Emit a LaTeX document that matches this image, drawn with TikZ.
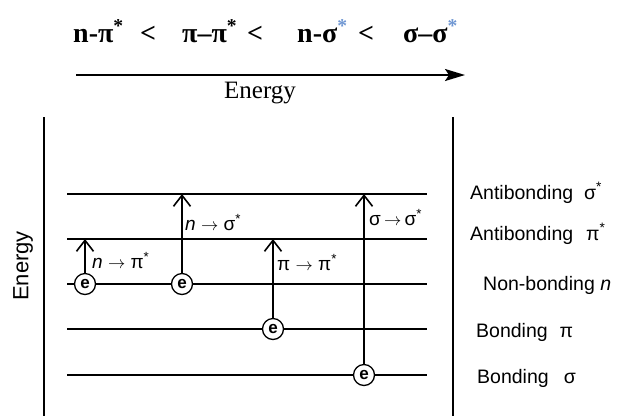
\documentclass[tikz,border=0pt]{standalone}
\usepackage{fontspec}
\setmainfont{Liberation Serif}
\setsansfont{Liberation Sans}
\usepackage{xcolor}
\usetikzlibrary{arrows.meta}
\definecolor{starBlue}{RGB}{110,150,210}
\tikzset{
  ordertext/.style={anchor=base west, inner sep=0pt, font=\bfseries\fontsize{28}{28}\selectfont},
  level/.style={line width=1.3pt},
  frameline/.style={line width=2pt},
  electron/.style={circle, draw, line width=1.3pt, fill=white, minimum size=21pt,
    inner sep=0pt, font=\sffamily\bfseries\fontsize{17}{17}\selectfont},
  excite/.style={-{Straight Barb[length=11pt,width=17pt,line width=1.6pt]}, line width=2.7pt},
  trans/.style={font=\sffamily\fontsize{19}{19}\selectfont, anchor=base west, inner sep=0pt},
  orbital/.style={font=\sffamily\fontsize{19.5}{19.5}\selectfont, anchor=base west, inner sep=0pt}
}

\begin{document}
\begin{tikzpicture}[x=1pt,y=-1pt]
  \useasboundingbox (0,0) rectangle (617,416);
  % order of the transitions
  \node[ordertext] (npi)   at (73,42)  {n-π\textsuperscript{*}};
  \node[ordertext] (lt1)   at (140,42) {<};
  \node[ordertext] (pipi)  at (182,42) {π–π\textsuperscript{*}};
  \node[ordertext] (lt2)   at (247,42) {<};
  \node[ordertext] (nsig)  at (297,42) {n-σ\textsuperscript{\color{starBlue}*}};
  \node[ordertext] (lt3)   at (358,42) {<};
  \node[ordertext] (sigsig) at (403,42) {σ–σ\textsuperscript{\color{starBlue}*}};
  \coordinate (ea) at (76,75);
  \coordinate (eb) at (465,75);
  \draw[line width=2pt, -{Stealth[length=20pt,width=12pt,inset=4pt]}] (ea) -- (eb);
  \node[anchor=base, inner sep=0pt, font=\fontsize{25}{25}\selectfont] (elabel) at (260,98) {Energy};

  % frame
  \draw[frameline] (44,117) -- (44,416);
  \draw[frameline] (453,117) -- (453,416);
  \node[rotate=90, font=\sffamily\fontsize{22}{22}\selectfont] (yaxis) at (23,266) {Energy};

  % levels
  \foreach \y in {194,239,284,329,375}
    \draw[level] (67,\y) -- (427,\y);

  % electrons
  \node[electron] (e1) at (85,284) {e};
  \node[electron] (e2) at (182,284) {e};
  \node[electron] (e3) at (273,329) {e};
  \node[electron] (e4) at (364,375) {e};
  \coordinate (t1) at (85,239);
  \coordinate (t2) at (182,194);
  \coordinate (t3) at (273,239);
  \coordinate (t4) at (364,194);
  \draw[excite] (e1) -- (t1);
  \draw[excite] (e2) -- (t2);
  \draw[excite] (e3) -- (t3);
  \draw[excite] (e4) -- (t4);
  \node[trans] (l1) at (92,268)  {\textit{n} $\rightarrow$ π\textsuperscript{*}};
  \node[trans] (l2) at (185,230) {\textit{n} $\rightarrow$ σ\textsuperscript{*}};
  \node[trans] (l3) at (277,270) {π $\rightarrow$ π\textsuperscript{*}};
  \node[trans] (l4) at (369,225) {σ\,$\rightarrow$\,σ\textsuperscript{*}};

  % orbital names
  \node[orbital] (o1) at (470,199) {Antibonding\hspace{11pt}σ\textsuperscript{*}};
  \node[orbital] (o2) at (470,240) {Antibonding\hspace{13pt}π\textsuperscript{*}};
  \node[orbital] (o3) at (483,290) {Non-bonding \textit{n}};
  \node[orbital] (o4) at (476,337) {Bonding\hspace{12pt}π};
  \node[orbital] (o5) at (477,383) {Bonding\hspace{15pt}σ};
\end{tikzpicture}
\end{document}
